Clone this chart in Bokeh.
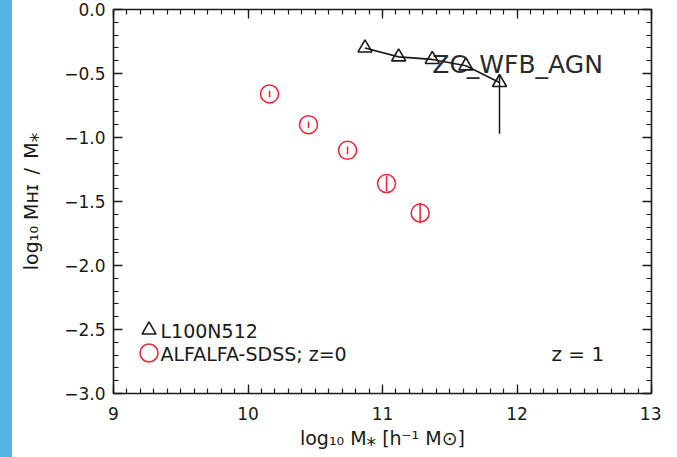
import numpy as np
from bokeh.plotting import figure
from bokeh.models import (Range1d, LinearAxis, FixedTicker, Label, Legend, LegendItem,
                          CustomLabelingPolicy, Div)
from bokeh.layouts import row
from bokeh.embed import file_html
from bokeh.resources import INLINE

# ---------------- data ----------------
sim_logmstar = [10.87, 11.12, 11.37, 11.62, 11.87]
sim_ratio = [-0.30, -0.37, -0.39, -0.44, -0.57]
sim_err_low = [0.0, 0.0, 0.0, 0.0, 0.40]
sim_err_high = [0.0, 0.0, 0.0, 0.0, 0.05]

obs_logmstar = [10.16, 10.45, 10.74, 11.03, 11.28]
obs_ratio = [-0.66, -0.90, -1.10, -1.36, -1.59]
obs_err = [0.025, 0.025, 0.03, 0.06, 0.08]

x_ticks = [9, 10, 11, 12, 13]
y_ticks = [-3.0, -2.5, -2.0, -1.5, -1.0, -0.5, 0.0]
y_tick_labels = ["−3.0", "−2.5", "−2.0", "−1.5", "−1.0", "−0.5", "0.0"]

x_title = "log₁₀ M⁎ [h⁻¹ M⊙]"
y_title = "log₁₀ Mʜɪ\u2002/\u2002M⁎"
sim_name = "L100N512"
obs_name = "ALFALFA-SDSS; z=0"
run_name = "ZC_WFB_AGN"
redshift_text = "z = 1"

# ---------------- styling ----------------
FONT = "DejaVu Sans"
RED = "#ee2233"
INK = "#1a1a1a"
BLUE = "#55b6e3"

STRIP = 12
FRAME_L, FRAME_T, FRAME_R, FRAME_B = 113, 9, 651, 393

p = figure(frame_width=FRAME_R - FRAME_L, frame_height=FRAME_B - FRAME_T,
           x_range=Range1d(9, 13), y_range=Range1d(-3, 0),
           x_axis_type=None, y_axis_type=None,
           output_backend="svg", toolbar_location=None,
           min_border_left=FRAME_L - STRIP, min_border_top=FRAME_T,
           min_border_right=10, min_border_bottom=457 - FRAME_B)
p.xgrid.visible = False
p.ygrid.visible = False
p.outline_line_color = INK
p.outline_line_width = 1.6
p.background_fill_color = "white"
p.border_fill_color = "white"

NO_LABELS = "for (const i of Array.from(indices)) { indices.unset(i) }\nreturn indices"


def make_axis(ticks, minor, labels=True, overrides=None, standoff=8,
              title=None, title_standoff=0):
    ax = LinearAxis(ticker=FixedTicker(ticks=ticks, minor_ticks=minor))
    ax.axis_line_color = None
    ax.major_tick_in = 9
    ax.major_tick_out = 0
    ax.minor_tick_in = 5
    ax.minor_tick_out = 0
    ax.major_tick_line_color = INK
    ax.minor_tick_line_color = INK
    ax.major_tick_line_width = 1.3
    ax.minor_tick_line_width = 1.2
    if labels:
        ax.major_label_text_font = FONT
        ax.major_label_text_font_size = "17px"
        ax.major_label_text_color = INK
        ax.major_label_standoff = standoff
        if overrides:
            ax.major_label_overrides = overrides
    else:
        ax.major_label_policy = CustomLabelingPolicy(code=NO_LABELS)
        ax.major_label_text_font_size = "1px"
        ax.major_label_standoff = 0
    if title:
        ax.axis_label = title
        ax.axis_label_text_font = FONT
        ax.axis_label_text_font_size = "19px"
        ax.axis_label_text_font_style = "normal"
        ax.axis_label_text_color = INK
        ax.axis_label_standoff = title_standoff
    return ax


x_minor = [float(v) for v in np.round(np.arange(9, 13.0001, 0.1), 2)]
y_minor = [float(v) for v in np.round(np.arange(-3, 0.0001, 0.1), 2)]
y_over = {t: lab for t, lab in zip(y_ticks, y_tick_labels)}

p.add_layout(make_axis(x_ticks, x_minor, standoff=13, title=x_title, title_standoff=4),
             "below")
p.add_layout(make_axis(x_ticks, x_minor, labels=False), "above")
p.add_layout(make_axis(y_ticks, y_minor, overrides=y_over, standoff=8, title=y_title,
                       title_standoff=19), "left")
p.add_layout(make_axis(y_ticks, y_minor, labels=False), "right")

# ---------------- run label (behind the marks) ----------------
p.add_layout(Label(x=11.37, y=-0.5, y_offset=9, text=run_name, text_font=FONT,
                   text_font_size="25px", text_color="#2a2a2a",
                   text_baseline="middle", level="underlay"))

# ---------------- simulation ----------------
sx = np.array(sim_logmstar)
sy = np.array(sim_ratio)
p.line(sx, sy, line_color=INK, line_width=1.6)
p.segment(x0=sx, y0=sy - np.array(sim_err_low), x1=sx, y1=sy + np.array(sim_err_high),
          line_color=INK, line_width=1.5)
r_tri = p.scatter(sx, sy, marker="triangle", size=14, fill_color=None,
                  line_color=INK, line_width=1.6)

# ---------------- observations ----------------
ox = np.array(obs_logmstar)
oy = np.array(obs_ratio)
oe = np.array(obs_err)
p.segment(x0=ox, y0=oy - oe, x1=ox, y1=oy + oe, line_color=RED, line_width=1.5)
r_circ = p.scatter(ox, oy, marker="circle", size=18, fill_color=None,
                   line_color=RED, line_width=1.5)

# ---------------- legend (keys via Legend, texts as labels) ----------------
def make_key(renderer, glyph, loc):
    return Legend(items=[LegendItem(label="", renderers=[renderer])],
                  location=loc, glyph_width=glyph, glyph_height=glyph,
                  label_standoff=0, padding=0, margin=0, spacing=0,
                  border_line_color=None, background_fill_alpha=0,
                  label_text_font_size="10px", label_width=0, label_height=glyph)

p.add_layout(make_key(r_tri, 35, (18, 46)))
p.add_layout(make_key(r_circ, 45, (13, 18)))


def corner_label(text, px, py, anchor_x=9, size="19px"):
    sx0 = FRAME_L if anchor_x == 9 else FRAME_R
    p.add_layout(Label(x=anchor_x, y=-3, x_offset=px - sx0, y_offset=FRAME_B - py,
                       text=text, text_font=FONT, text_font_size=size,
                       text_color=INK, text_align="left", text_baseline="middle"))

corner_label(sim_name, 160, 330)
corner_label(obs_name, 160, 353)
corner_label(redshift_text, 551, 353, anchor_x=13, size="20px")

strip = Div(text="", width=STRIP, height=457, margin=0,
            styles={"background-color": BLUE})

layout = row(strip, p)
open("out.html", "w").write(file_html(layout, INLINE))
